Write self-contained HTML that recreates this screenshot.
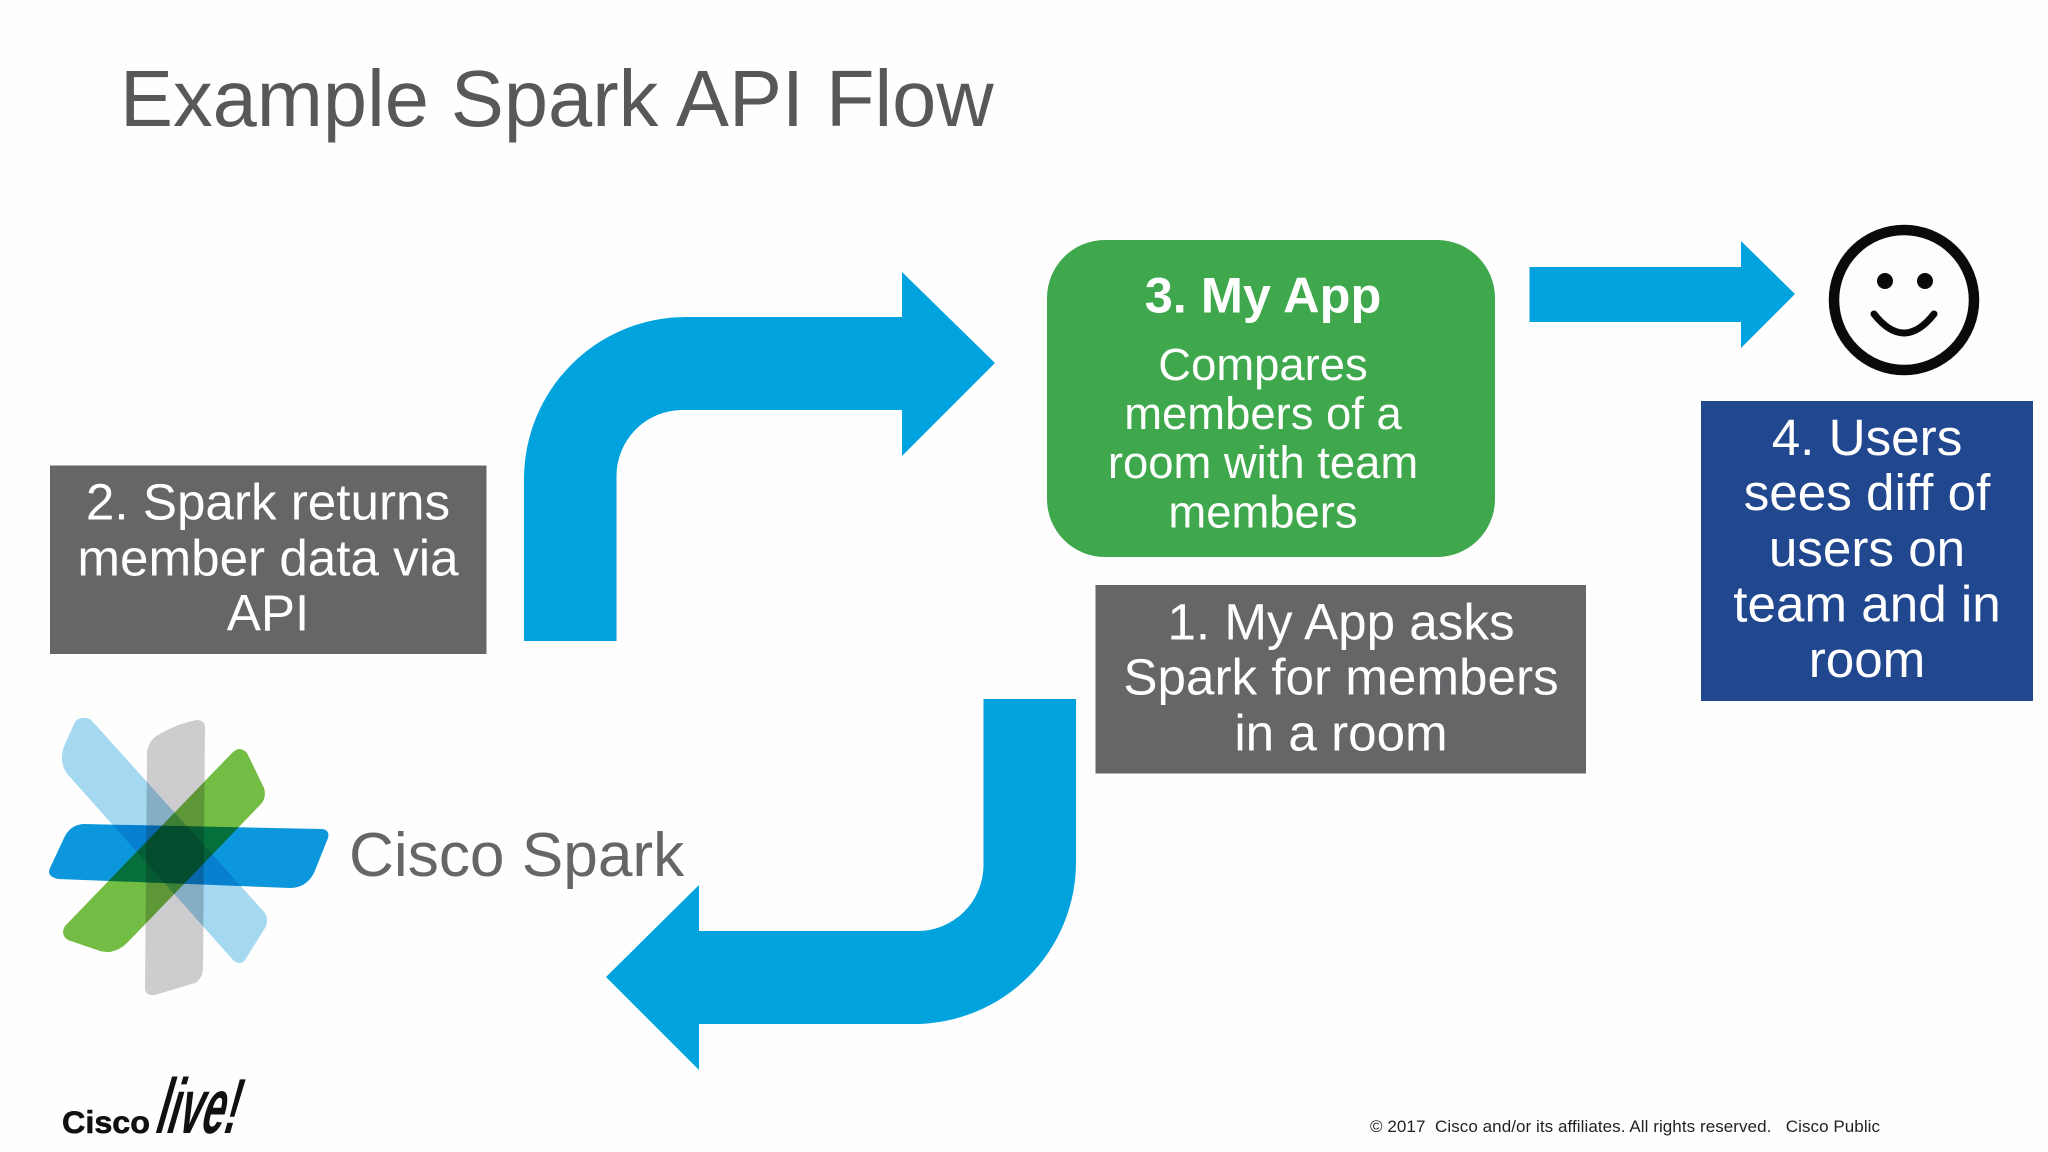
<!DOCTYPE html>
<html>
<head>
<meta charset="utf-8">
<title>Example Spark API Flow</title>
<style>
html,body{margin:0;padding:0;background:#fefefe;}
svg{display:block;font-family:"Liberation Sans",Arial,sans-serif;}
.c{text-anchor:middle;fill:#fff;}
.m{mix-blend-mode:multiply;}
</style>
</head>
<body>
<svg width="2048" height="1152" viewBox="0 0 2048 1152" xmlns="http://www.w3.org/2000/svg">
<rect width="2048" height="1152" fill="#fefefe"/>
<text x="120" y="126" font-size="79.4" fill="#58585b">Example Spark API Flow</text>

<!-- arrow up -->
<path d="M524 641V479A162 162 0 0 1 686 317H902V272L995 363L902 456V410H682A66 66 0 0 0 616.500 476V641Z" fill="#00a3de"/>
<!-- arrow down -->
<path d="M1076 699V862A162 162 0 0 1 914 1024H699V1070L606 977L699 885V931H917A66 66 0 0 0 983.500 865V699Z" fill="#00a3de"/>
<!-- arrow right -->
<path d="M1529.500 267H1741V241L1795 294L1741 348V322H1529.500Z" fill="#00a3de"/>

<!-- green box -->
<rect x="1047" y="240" width="448" height="317" rx="58" fill="#3fa84c"/>
<text class="c" x="1263" y="312.500" font-size="50.5" font-weight="bold">3. My App</text>
<text class="c" x="1263" y="380" font-size="45.4">Compares</text>
<text class="c" x="1263" y="429" font-size="45.4">members of a</text>
<text class="c" x="1263" y="478" font-size="45.4">room with team</text>
<text class="c" x="1263" y="527.500" font-size="45.4">members</text>

<!-- gray 2 -->
<rect x="50" y="465.500" width="436.500" height="188.500" fill="#666568"/>
<text class="c" x="268" y="519.500" font-size="51.2">2. Spark returns</text>
<text class="c" x="268" y="575.500" font-size="51.2">member data via</text>
<text class="c" x="268" y="630.500" font-size="51.2">API</text>

<!-- gray 1 -->
<rect x="1095.500" y="585" width="490.500" height="188.500" fill="#666568"/>
<text class="c" x="1341" y="639.500" font-size="51.2">1. My App asks</text>
<text class="c" x="1341" y="694.500" font-size="51.2">Spark for members</text>
<text class="c" x="1341" y="750.500" font-size="51.2">in a room</text>

<!-- blue box -->
<rect x="1701" y="401" width="332" height="300" fill="#21478f"/>
<text class="c" x="1867" y="455" font-size="51.2">4. Users</text>
<text class="c" x="1867" y="510" font-size="51.2">sees diff of</text>
<text class="c" x="1867" y="566" font-size="51.2">users on</text>
<text class="c" x="1867" y="621.500" font-size="51.2">team and in</text>
<text class="c" x="1867" y="677" font-size="51.2">room</text>

<!-- smiley -->
<circle cx="1904" cy="300" r="70" fill="#fdfdfd" stroke="#0a0a0a" stroke-width="10.500"/>
<circle cx="1885" cy="281" r="8" fill="#0a0a0a"/>
<circle cx="1925" cy="281" r="8" fill="#0a0a0a"/>
<path d="M1874 314Q1904 352 1934 314" fill="none" stroke="#0a0a0a" stroke-width="7" stroke-linecap="round"/>

<!-- spark logo -->
<g style="isolation:isolate">
<path class="m" d="M83 718Q89 717 93 722L265 913Q269 920 265 928L245 960Q240 966 233 960L70 777Q61 768 62 755Q63 748 65 744L75 722Q78 718 83 718Z" fill="#a5d8f1"/>
<path class="m" d="M197 720Q205 720 205 728L203 968Q203 978 195 983L155 995Q145 996 145 988L147 753Q148 743 155 737Q175 724 197 720Z" fill="#cdcccf"/>
<path class="m" d="M240 749Q246 750 248 755L264 788Q267 798 260 805L127 943Q120 950 110 952Q104 952 100 951L68 940Q60 935 65 926L232 753Q236 749 240 749Z" fill="#73bd45"/>
<path class="m" d="M83 824L322 829Q330 830 328 838L314 873Q306 888 290 888L58 879Q46 876 50 868L64 838Q70 825 83 824Z" fill="#0c97dc"/>
</g>
<text x="349" y="876" font-size="62.2" fill="#666568">Cisco Spark</text>

<!-- cisco live -->
<text x="62" y="1133" font-size="31.5" font-weight="bold" fill="#111" stroke="#111" stroke-width=".6" textLength="88" lengthAdjust="spacingAndGlyphs">Cisco</text>
<text transform="translate(153 1133) skewX(-16) scale(.52 1)" font-size="78" font-weight="bold" fill="#111">live!</text>

<!-- footer -->
<text x="1370" y="1132" font-size="17" fill="#222" textLength="510" lengthAdjust="spacing" style="white-space:pre">© 2017  Cisco and/or its affiliates. All rights reserved.   Cisco Public</text>
</svg>
</body>
</html>
